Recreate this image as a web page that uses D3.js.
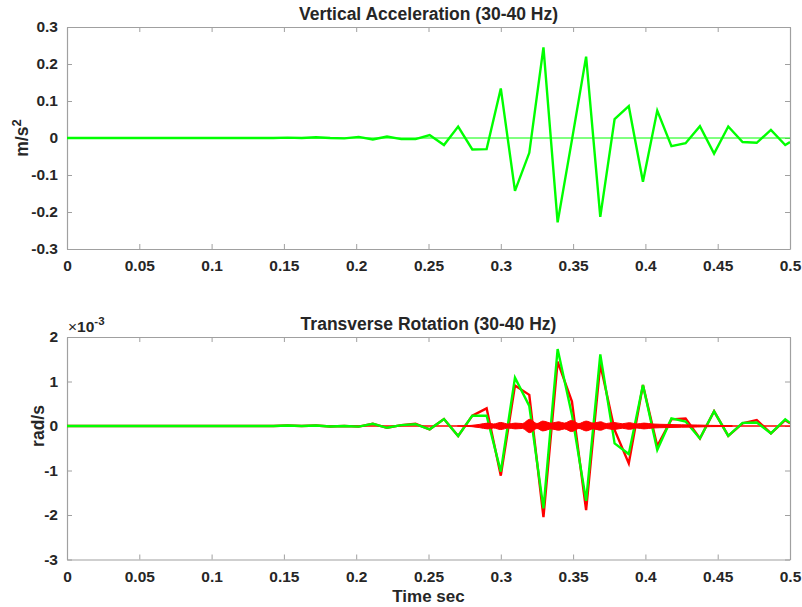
<!DOCTYPE html>
<html><head><meta charset="utf-8">
<script src="https://cdn.jsdelivr.net/npm/d3@7"></script>
<style>
html,body{margin:0;padding:0;background:#fff;}
svg text{font-family:"Liberation Sans",Arial,Helvetica,sans-serif;font-weight:bold;fill:#262626;}
</style></head>
<body>
<svg id="chart" width="802" height="607"></svg>
<script>
// ---- data ----
const times = [0, 0.1427, 0.1525, 0.1623, 0.1722, 0.1820, 0.1918, 0.2017, 0.2115, 0.2213, 0.2312, 0.2410,
  0.2508, 0.2607, 0.2705, 0.2803, 0.2902, 0.3000, 0.3098, 0.3197, 0.3295, 0.3393, 0.3492, 0.3590, 0.3688,
  0.3787, 0.3885, 0.3983, 0.4082, 0.4180, 0.4278, 0.4377, 0.4475, 0.4573, 0.4672, 0.4770, 0.4868, 0.4967, 0.5];
const vertAcc = [0, 0, 0.001, 0, 0.002, 0, -0.001, 0.003, -0.004, 0.004, -0.003, -0.003,
  0.008, -0.019, 0.031, -0.031, -0.030, 0.134, -0.143, -0.040, 0.245, -0.228, -0.005, 0.220, -0.213,
  0.051, 0.086, -0.118, 0.074, -0.022, -0.014, 0.032, -0.042, 0.031, -0.011, -0.013, 0.022, -0.019, -0.011];
// rotation, units of 1e-3 rad/s
const rotGreen = [0, 0, 0.01, 0, 0.01, -0.01, 0, -0.015, 0.05, -0.04, 0.02, 0.04,
  -0.075, 0.157, -0.225, 0.232, 0.232, -1.026, 1.086, 0.45, -1.85, 1.73, 0.25, -1.68, 1.61,
  -0.39, -0.63, 0.92, -0.54, 0.17, 0.10, -0.28, 0.33, -0.22, 0.07, 0.08, -0.165, 0.15, 0.07];
const rotRed = [0, 0, 0.01, 0, 0.01, -0.01, 0, -0.015, 0.05, -0.04, 0.02, 0.05,
  -0.075, 0.157, -0.225, 0.232, 0.397, -1.116, 0.91, 0.70, -2.05, 1.445, 0.55, -1.89, 1.39,
  -0.09, -0.84, 0.92, -0.45, 0.15, 0.17, -0.28, 0.33, -0.22, 0.06, 0.135, -0.165, 0.13, 0.06];
// envelope of the dense high-frequency red trace (units 1e-3)
const bandTimes = [0.270, 0.280, 0.285, 0.291, 0.295, 0.300, 0.305, 0.310, 0.315, 0.320, 0.325, 0.329,
  0.335, 0.340, 0.344, 0.349, 0.354, 0.359, 0.364, 0.369, 0.373, 0.378, 0.384, 0.389, 0.394, 0.399,
  0.405, 0.415, 0.425, 0.436, 0.445, 0.460];
const bandEnv = [0, 0.015, 0.035, 0.065, 0.045, 0.08, 0.045, 0.065, 0.055, 0.15, 0.055, 0.11,
  0.065, 0.095, 0.065, 0.125, 0.055, 0.11, 0.065, 0.095, 0.055, 0.08, 0.05, 0.075, 0.045, 0.065,
  0.045, 0.035, 0.028, 0.022, 0.014, 0.01];
const xTicks = [0, 0.05, 0.1, 0.15, 0.2, 0.25, 0.3, 0.35, 0.4, 0.45, 0.5];
const yTicksTop = [-0.3, -0.2, -0.1, 0, 0.1, 0.2, 0.3];
const yTicksBottom = [-3, -2, -1, 0, 1, 2];

// ---- drawing ----
const svg = d3.select("#chart");
const X0 = 67, X1 = 790;
const axisCol = "#a0a0a0";
const fmt = d => String(+d.toFixed(3));

function panel(top, bottom, yDomain, yTicks, title) {
  const x = d3.scaleLinear().domain([0, 0.5]).range([X0, X1]);
  const y = d3.scaleLinear().domain(yDomain).range([bottom, top]);
  const g = svg.append("g");
  const clipId = "clip" + Math.round(top);
  svg.append("clipPath").attr("id", clipId).append("rect")
    .attr("x", X0).attr("y", top).attr("width", X1 - X0).attr("height", bottom - top);
  const ax = g.append("g");
  ax.append("g").attr("transform", `translate(0,${bottom})`)
    .call(d3.axisBottom(x).tickValues(xTicks).tickSizeInner(-5).tickSizeOuter(0).tickPadding(11).tickFormat(fmt));
  ax.append("g").attr("transform", `translate(0,${top})`)
    .call(d3.axisTop(x).tickValues(xTicks).tickSizeInner(-5).tickSizeOuter(0).tickFormat(""));
  ax.append("g").attr("transform", `translate(${X0},0)`)
    .call(d3.axisLeft(y).tickValues(yTicks).tickSizeInner(-5).tickSizeOuter(0).tickPadding(9).tickFormat(fmt));
  ax.append("g").attr("transform", `translate(${X1},0)`)
    .call(d3.axisRight(y).tickValues(yTicks).tickSizeInner(-5).tickSizeOuter(0).tickFormat(""));
  ax.selectAll("path.domain").attr("stroke", axisCol).attr("stroke-width", 1.2);
  ax.selectAll(".tick line").attr("stroke", axisCol).attr("stroke-width", 1);
  ax.selectAll(".tick text").attr("font-size", 15.5).attr("fill", "#262626")
    .attr("font-family", '"Liberation Sans",Arial,sans-serif').attr("font-weight", "bold");
  svg.append("text").attr("x", (X0 + X1) / 2).attr("y", top - 7).attr("text-anchor", "middle")
    .attr("font-size", 17.5).text(title);
  const plot = svg.append("g").attr("clip-path", `url(#${clipId})`);
  return {x, y, plot};
}

// top panel
const p1 = panel(27, 249, [-0.3, 0.3], yTicksTop, "Vertical Acceleration (30-40 Hz)");
p1.plot.append("line").attr("x1", X0).attr("x2", X1).attr("y1", p1.y(0)).attr("y2", p1.y(0))
  .attr("stroke", "#00ff00").attr("stroke-width", 1);
p1.plot.append("path").datum(times.map((t, i) => [t, vertAcc[i]]))
  .attr("fill", "none").attr("stroke", "#00ff00").attr("stroke-width", 2.4)
  .attr("d", d3.line().x(d => p1.x(d[0])).y(d => p1.y(d[1])));

// bottom panel
const p2 = panel(337, 559.5, [-3, 2], yTicksBottom, "Transverse Rotation (30-40 Hz)");
p2.plot.append("line").attr("x1", X0).attr("x2", X1).attr("y1", p2.y(0)).attr("y2", p2.y(0))
  .attr("stroke", "#ff0000").attr("stroke-width", 1.5);
p2.plot.append("path").datum(times.map((t, i) => [t, rotRed[i]]))
  .attr("fill", "none").attr("stroke", "#ff0000").attr("stroke-width", 2.4)
  .attr("d", d3.line().x(d => p2.x(d[0])).y(d => p2.y(d[1])));
p2.plot.append("path").datum(times.map((t, i) => [t, rotGreen[i]]))
  .attr("fill", "none").attr("stroke", "#00ff00").attr("stroke-width", 2.4)
  .attr("d", d3.line().x(d => p2.x(d[0])).y(d => p2.y(d[1])));
p2.plot.append("path").datum(bandTimes.map((t, i) => [t, bandEnv[i]]))
  .attr("fill", "#ff0000").attr("stroke", "#ff0000").attr("stroke-width", 1)
  .attr("d", d3.area().curve(d3.curveMonotoneX).x(d => p2.x(d[0])).y0(d => p2.y(-d[1])).y1(d => p2.y(d[1])));

// labels
const yl1 = svg.append("text").attr("transform", `translate(28,138) rotate(-90)`).attr("text-anchor", "middle")
  .attr("font-size", 17.5);
yl1.append("tspan").text("m/s");
yl1.append("tspan").attr("dy", -7).attr("font-size", 13).text("2");
svg.append("text").attr("transform", `translate(44,426) rotate(-90)`).attr("text-anchor", "middle")
  .attr("font-size", 17.5).text("rad/s");
const ex = svg.append("text").attr("x", 68).attr("y", 332).attr("font-size", 15.5);
ex.append("tspan").attr("font-weight", "normal").text("\u00d7");
ex.append("tspan").text("10");
ex.append("tspan").attr("dy", -7).attr("font-size", 11.5).text("-3");
svg.append("text").attr("x", (X0 + X1) / 2).attr("y", 602).attr("text-anchor", "middle")
  .attr("font-size", 17).text("Time sec");
</script>
</body></html>
